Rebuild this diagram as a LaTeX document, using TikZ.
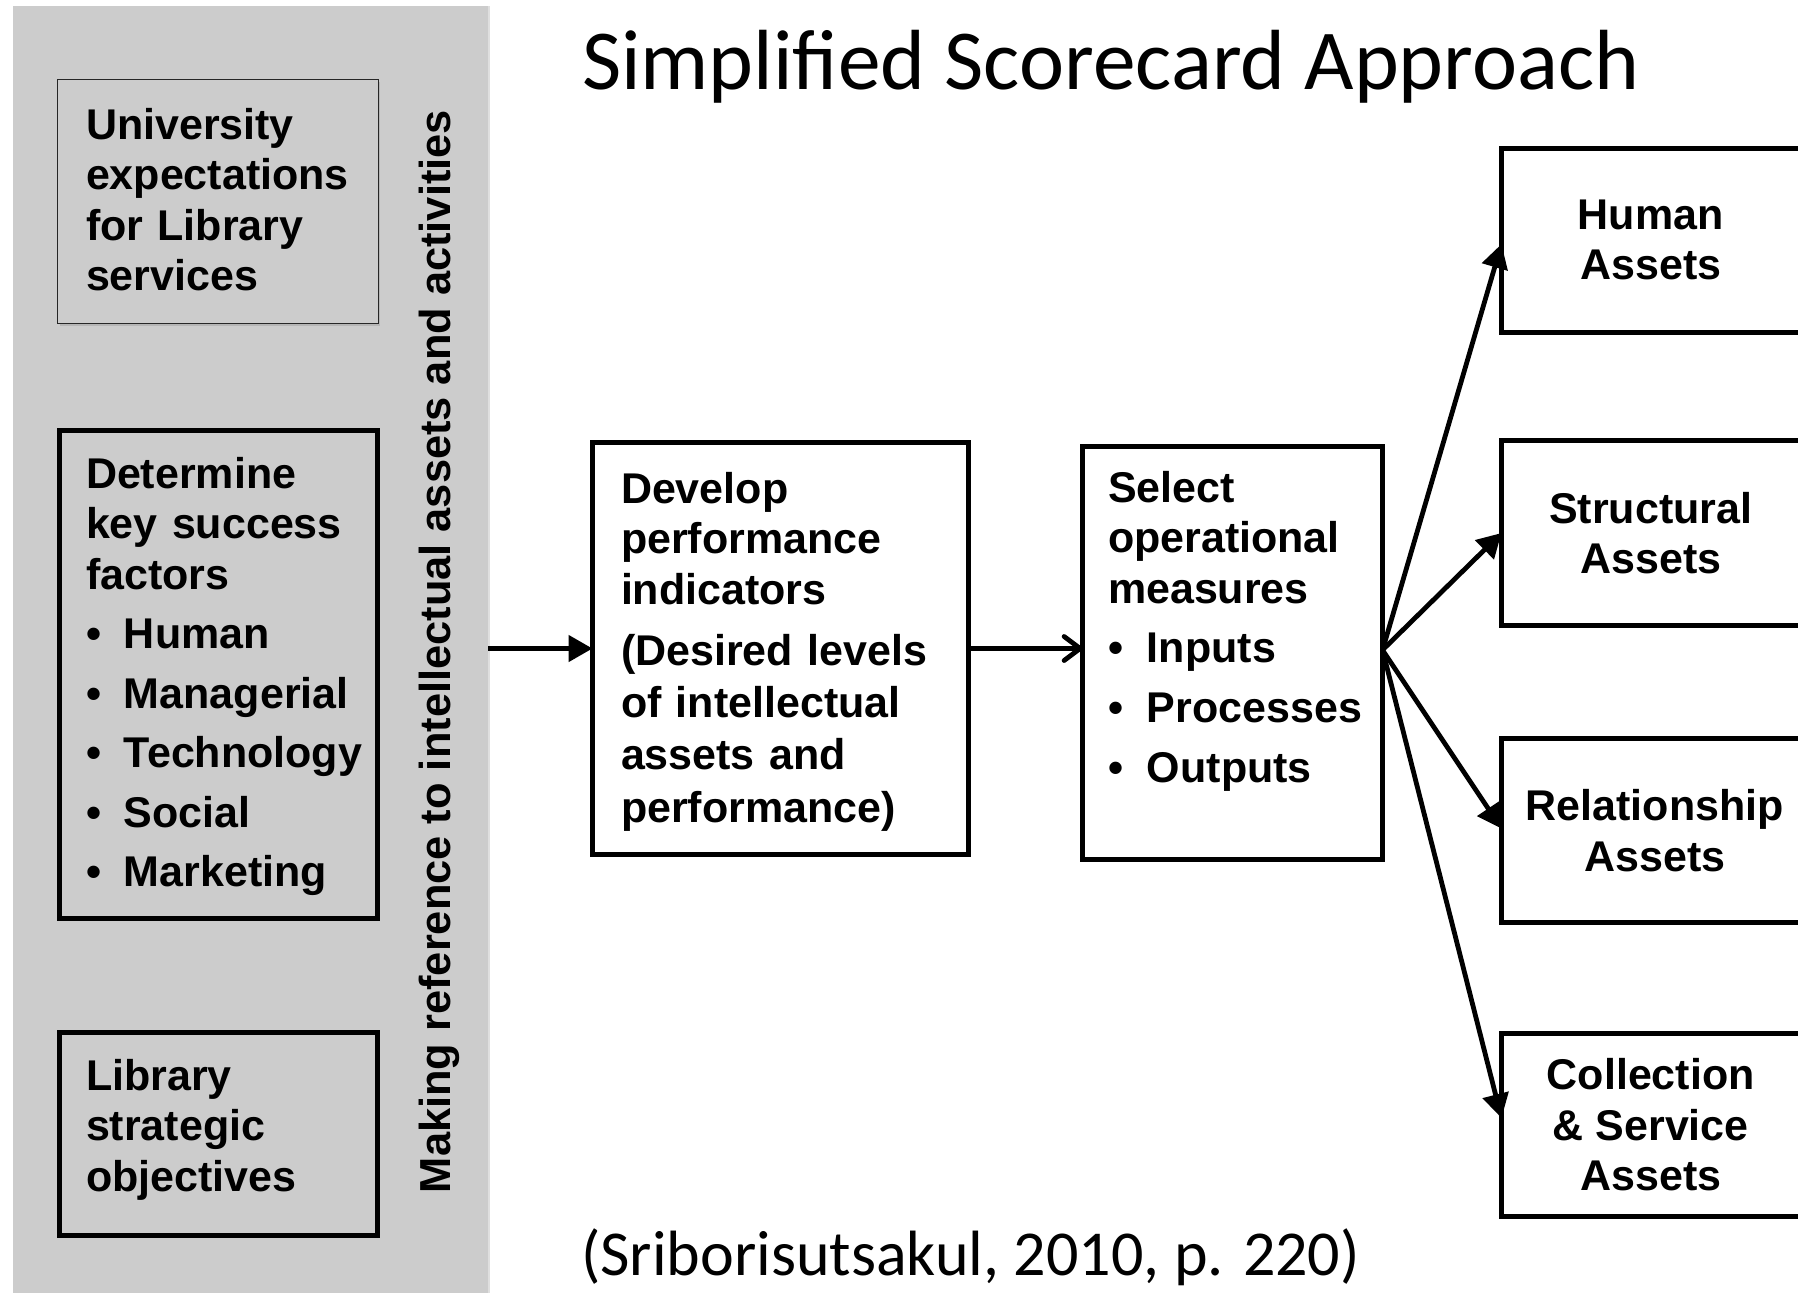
\documentclass[tikz,border=0pt]{standalone}
\usepackage{fontspec}
\setmainfont{Liberation Sans}
\newfontfamily\carl{Carlito}
\usetikzlibrary{arrows.meta,shadows}
\definecolor{panelgray}{RGB}{204,204,204}
\newcommand\mybulA{\makebox[19pt][l]{\textbullet}}
\newcommand\mybulB{\makebox[19.5pt][l]{\textbullet}}
\begin{document}
\begin{tikzpicture}[x=0.5pt,y=-0.5pt,
  every node/.style={inner sep=0pt, outer sep=0pt},
  bxfont/.style={font=\fontsize{21.5}{25.25}\selectfont\bfseries},
  shad/.style={drop shadow={shadow xshift=1pt,shadow yshift=-1.3pt,opacity=0.3}},
  panelbox/.style={fill=panelgray, draw=none},
  thinbox/.style={draw=black!85, line width=0.65pt, fill=panelgray, shad},
  greybox/.style={draw=black, line width=2.5pt, fill=panelgray, shad},
  whitebox/.style={draw=black, line width=2.5pt, fill=white, shad},
  txt/.style={bxfont, anchor=base west, align=left, text width=#1},
  arr/.style={line width=2.4pt, -{Triangle[length=12pt,width=13pt]}},
  openarr/.style={line width=2.4pt, -{Straight Barb[length=8pt,width=12pt,round]}},
]
\useasboundingbox (0,0) rectangle (1798,1292);

% left panel
\node[panelbox, minimum width=237.5pt, minimum height=647pt, drop shadow={shadow xshift=1.2pt,shadow yshift=0pt,opacity=0.25}] (panel) at (250.5,653) {};

\node[thinbox, minimum width=160.3pt, minimum height=121.8pt] (univ) at (218,201.5) {};
\node[greybox, minimum width=159pt, minimum height=244pt] (ksf) at (218.5,674.5) {};
\node[greybox, minimum width=159pt, minimum height=101.5pt] (lso) at (218.5,1134) {};

\node[txt=155pt] (univtext) at (86,139) {University\\expectations\\for Library\\services};
\node[txt=155pt] (ksftext) at (86,488) {Determine\\key success\\factors\\[4.5pt]\mybulA Human\\[4.5pt]\mybulA Managerial\\[4.5pt]\mybulA Technology\\[4.5pt]\mybulA Social\\[4.5pt]\mybulA Marketing};
\node[txt=155pt] (lsotext) at (86,1090) {Library\\strategic\\objectives};

\node[font=\fontsize{21.7}{25}\selectfont\bfseries, rotate=90, anchor=base west] (vlabel) at (450,1193) {Making reference to intellectual assets and activities};

% middle boxes
\node[whitebox, minimum width=188pt, minimum height=206pt] (develop) at (780.5,648.5) {};
\node[txt=185pt] (developtext) at (621,503) {Develop\\performance\\indicators\\[5.3pt](Desired levels\\[0.9pt]of intellectual\\[0.9pt]assets and\\[0.9pt]performance)};

\node[whitebox, minimum width=150pt, minimum height=206.5pt] (select) at (1232.5,653) {};
\node[txt=148pt] (selecttext) at (1108,502) {Select\\operational\\measures\\[4.5pt]\mybulB Inputs\\[4.5pt]\mybulB Processes\\[5.2pt]\mybulB Outputs};

% right boxes
\node[whitebox, bxfont, align=center, minimum width=149.25pt, minimum height=92pt] (human) at (1650.75,240) {Human\\Assets};
\node[whitebox, bxfont, align=center, minimum width=149.25pt, minimum height=92.5pt] (structural) at (1650.75,533) {Structural\\Assets};
\node[whitebox, bxfont, align=center, minimum width=149.25pt, minimum height=92pt] (relationship) at (1650.75,830.5) {\hspace*{4pt}Relationship\\\hspace*{4pt}Assets};
\node[whitebox, bxfont, align=center, minimum width=149.25pt, minimum height=91.5pt] (collection) at (1650.75,1125) {Collection\\\&~Service\\Assets};

% title and citation
\node[anchor=base west, font=\carl\fontsize{42.7}{50}\selectfont] (title) at (582,89.5) {Simplified Scorecard Approach};
\node[anchor=base west, font=\carl\fontsize{32}{38}\selectfont] (cite) at (581,1275) {(Sriborisutsakul, 2010, p. 220)};

% connectors
\draw[arr] (panel.east |- develop.west) -- (develop.west);
\draw[openarr] (develop.east) -- (develop.east -| select.west);
\coordinate (fan) at ([yshift=1.5pt]select.east);
\draw[arr] (fan) -- ([yshift=-2pt]human.west);
\draw[arr] (fan) -- (structural.west);
\draw[arr] (fan) -- ([yshift=1pt]relationship.west);
\draw[arr] (fan) -- ([yshift=3.5pt]collection.west);
\end{tikzpicture}
\end{document}
